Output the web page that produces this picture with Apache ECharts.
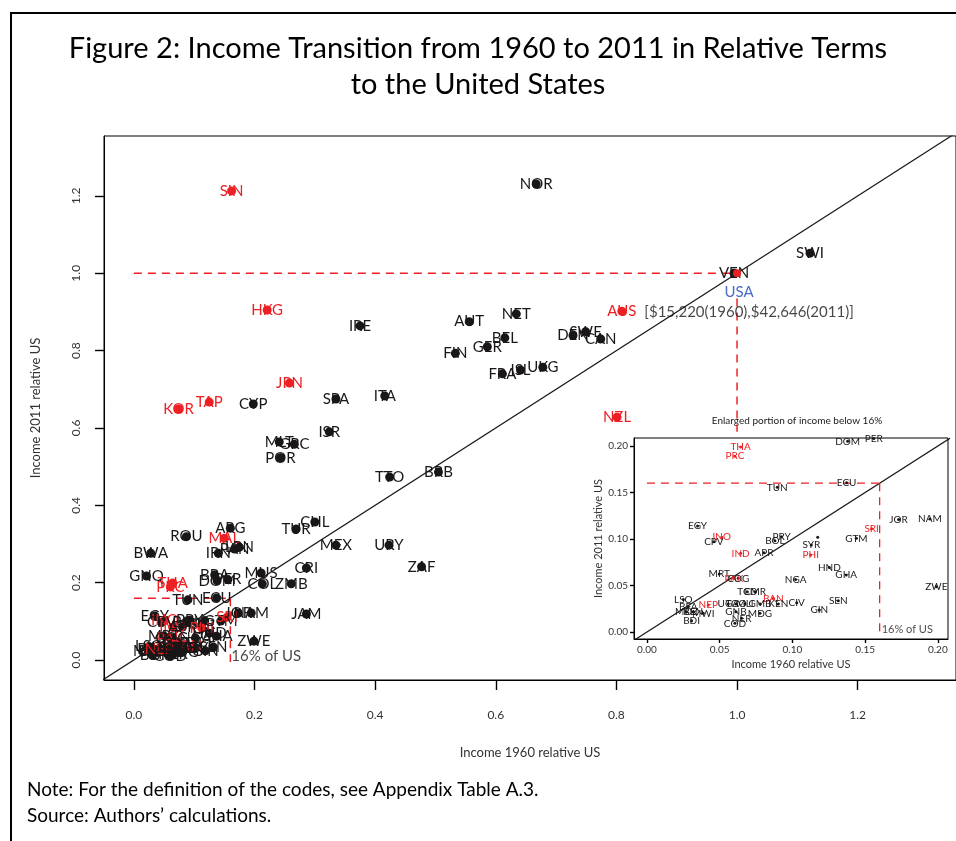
<!DOCTYPE html>
<html>
<head>
<meta charset="utf-8">
<script src="https://cdn.jsdelivr.net/npm/echarts@6/dist/echarts.min.js"></script>
<style>
  html, body { margin: 0; padding: 0; background: #fff; }
  #chart { width: 956px; height: 841px; }
</style>
</head>
<body>
<div id="chart"></div>
<script>
// countries above the 16% band (main panel only)
const mainCodes = ['SIN','HKG','IRE','JPN','TAP','KOR','CYP','SPA','ITA','ISR',
  'NOR','SWI','VEN','AUS','NET','AUT','BEL','GER','FIN','SWE','DEN','CAN','ISL','UKG','FRA','NZL',
  'MLT','GRC','POR','ARG','ROU','MAL','BWA','IRN','PAN','LBN','TTO','BRB','CHL','TUR','MEX','URY',
  'ZAF','CRI','MUS','COL','ZMB','JAM','GNQ','BRA'];
const main1960 = [0.162,0.221,0.375,0.258,0.125,0.074,0.198,0.335,0.416,0.324,
  0.667,1.121,0.995,0.809,0.634,0.556,0.615,0.586,0.533,0.749,0.728,0.774,0.641,0.678,0.611,0.801,
  0.241,0.266,0.243,0.160,0.087,0.150,0.028,0.140,0.167,0.175,0.424,0.505,0.300,0.269,0.335,0.423,
  0.477,0.286,0.211,0.213,0.261,0.286,0.021,0.134];
const main2011 = [1.213,0.905,0.864,0.716,0.667,0.649,0.662,0.675,0.683,0.590,
  1.231,1.052,1.000,0.902,0.895,0.875,0.833,0.810,0.793,0.849,0.839,0.830,0.750,0.757,0.740,0.628,
  0.564,0.558,0.523,0.341,0.319,0.315,0.276,0.276,0.287,0.292,0.473,0.486,0.357,0.339,0.297,0.297,
  0.241,0.238,0.225,0.197,0.197,0.119,0.217,0.220];

// countries in the enlarged portion (shown in both panels)
const lowCodes = ['THA','PRC','DOM','PER','TUN','ECU','EGY','INO','CPV','IND','PRY','BOL','APR','SYR','',
  'PHI','GTM','SRI','JOR','NAM','ZWE','HND','GHA','NGA','MRT','PAK','COG','TCD','CMR','BAN','GMB','KEN',
  'CIV','SEN','GIN','MDG','NER','COD','LSO','BFA','MOZ','BEN','MWI','BDI','NEP','UGA','TGO','GNB','MLI'];
const low1960 = [0.0644,0.0605,0.138,0.156,0.0896,0.1373,0.0348,0.0514,0.046,0.0644,0.0926,0.088,0.0805,0.113,0.1174,
  0.1126,0.144,0.1545,0.173,0.1946,0.199,0.1254,0.137,0.1022,0.0497,0.0598,0.0628,0.069,0.0743,0.0869,0.0777,0.0903,
  0.103,0.1316,0.1185,0.0777,0.0651,0.0605,0.025,0.0284,0.0273,0.0318,0.0387,0.0307,0.0422,0.0559,0.0612,0.0612,0.0674];
const low2011 = [0.199,0.189,0.205,0.208,0.1556,0.1606,0.114,0.102,0.097,0.0846,0.1025,0.098,0.0853,0.0935,0.102,
  0.0828,0.1007,0.111,0.121,0.1215,0.0487,0.0695,0.0613,0.0566,0.0624,0.0577,0.0577,0.0434,0.0434,0.0362,0.0301,0.0301,
  0.0315,0.0337,0.0237,0.0201,0.0147,0.0093,0.035,0.0272,0.0218,0.0218,0.0201,0.0122,0.029,0.0301,0.0301,0.0219,0.0301];

// economies highlighted in red
const redCodes = ['SIN','HKG','JPN','TAP','KOR','AUS','NZL','MAL','THA','PRC','INO','IND','PHI','SRI','PAK','BAN','NEP'];

const xTicks = [0, 0.2, 0.4, 0.6, 0.8, 1.0, 1.2];
const yTicks = [0, 0.2, 0.4, 0.6, 0.8, 1.0, 1.2];
const insetTicks = [0, 0.05, 0.1, 0.15, 0.2];

const usaPoint = [1.0, 1.0];
const usaNote = ['USA', '[$15,220(1960),$42,646(2011)]'];
const usaDrop = [0.935, 0.59];
const cutoff = 0.16;
const cutoffLabel = '16% of US';

// axis extents (R style 4% padding)
const mainX = [-0.0495, 1.363], mainY = [-0.0517, 1.355];
const insetX = [-0.0089, 0.207], insetY = [-0.0075, 0.2086];

const BLACK = '#1a1718', RED = '#ed2024', BLUE = '#4a6cc6';
const FONT = 'Lato';

function points(codes, xs, ys, fontSize) {
  return codes.map((c, i) => {
    const col = redCodes.includes(c) ? RED : BLACK;
    return {
      name: c,
      value: [xs[i], ys[i]],
      itemStyle: { color: col, opacity: 1 },
      label: { color: col, fontSize: fontSize }
    };
  });
}

function dashed(gi, pts, width) {
  return {
    type: 'line', xAxisIndex: gi, yAxisIndex: gi, data: pts, symbol: 'none',
    silent: true, clip: true, z: 1,
    lineStyle: { color: RED, width: width, type: [8, 6] }
  };
}

function diagonal(gi) {
  return {
    type: 'line', xAxisIndex: gi, yAxisIndex: gi, data: [[-0.1, -0.1], [1.5, 1.5]],
    symbol: 'none', silent: true, clip: true, z: 1,
    lineStyle: { color: BLACK, width: 1.2 }
  };
}

function axis(gi, range, tickVals, digits, opts) {
  return Object.assign({
    type: 'value', gridIndex: gi, min: range[0], max: range[1],
    axisLine: { show: true, onZero: false, lineStyle: { color: '#000', width: 1 } },
    splitLine: { show: false },
    axisTick: { show: true, customValues: tickVals, length: opts.tick, lineStyle: { color: '#000', width: 1.4 } },
    axisLabel: { customValues: tickVals, formatter: v => v.toFixed(digits), margin: opts.margin,
      fontSize: opts.fs, color: '#333', rotate: opts.rotate || 0 },
    nameLocation: 'middle', nameTextStyle: { fontSize: opts.nfs, color: '#333' }
  }, opts.extra);
}

const chart = echarts.init(document.getElementById('chart'));

chart.setOption({
  backgroundColor: '#fff',
  animation: false,
  textStyle: { fontFamily: FONT },
  title: {
    text: 'Figure 2: Income Transition from 1960 to 2011 in Relative Terms\nto the United States',
    left: 'center', top: 26,
    textStyle: { fontSize: 29, fontWeight: 'normal', lineHeight: 36, color: '#000', fontFamily: FONT }
  },
  graphic: [
    { id: 'frameL', type: 'line', shape: { x1: 11, y1: 12, x2: 11, y2: 841 }, style: { stroke: '#000', lineWidth: 2 } },
    { id: 'frameT', type: 'line', shape: { x1: 10, y1: 13, x2: 956, y2: 13 }, style: { stroke: '#000', lineWidth: 2 } },
    { id: 'insetTitle', type: 'text', x: 797, y: 416, style: { text: 'Enlarged portion of income below 16%', fontSize: 10, fill: BLACK, fontFamily: FONT, align: 'center', textAlign: 'center' } },
    { id: 'note', type: 'text', left: 27, top: 780, style: { text: 'Note: For the definition of the codes, see Appendix Table A.3.', fontSize: 19, fill: '#000', fontFamily: FONT } },
    { id: 'source', type: 'text', left: 27, top: 806, style: { text: 'Source: Authors\u2019 calculations.', fontSize: 19, fill: '#000', fontFamily: FONT } }
  ],
  grid: [
    { left: 104, top: 136, width: 856, height: 544, show: true, borderColor: '#000', borderWidth: 1 },
    { left: 634, top: 438, width: 314, height: 201, show: true, borderColor: '#000', borderWidth: 1, backgroundColor: '#fff' }
  ],
  xAxis: [
    axis(0, mainX, xTicks, 1, { tick: 10, margin: 29, fs: 12, nfs: 13,
      extra: { name: 'Income 1960 relative US', nameGap: 66 } }),
    axis(1, insetX, insetTicks, 2, { tick: 4, margin: 6, fs: 10, nfs: 11,
      extra: { name: 'Income 1960 relative US', nameGap: 20 } })
  ],
  yAxis: [
    axis(0, mainY, yTicks, 1, { tick: 9, margin: 22, fs: 12, nfs: 13, rotate: 90,
      extra: { name: 'Income 2011 relative US', nameGap: 62 } }),
    axis(1, insetY, insetTicks, 2, { tick: 4, margin: 6, fs: 10, nfs: 11,
      extra: { name: 'Income 2011 relative US', nameGap: 30 } })
  ],
  series: [
    diagonal(0),
    dashed(0, [[0, usaPoint[1]], usaPoint], 1.5),
    dashed(0, [[usaPoint[0], usaDrop[0]], [usaPoint[0], usaDrop[1]]], 1.5),
    dashed(0, [[0, cutoff], [cutoff, cutoff]], 1.5),
    dashed(0, [[cutoff, cutoff], [cutoff, -0.005]], 1.5),
    {
      type: 'scatter', xAxisIndex: 0, yAxisIndex: 0, symbolSize: 9, z: 3,
      data: points(mainCodes, main1960, main2011, 15).concat(points(lowCodes, low1960, low2011, 15)),
      label: { show: true, position: 'inside', formatter: '{b}', fontFamily: FONT }
    },
    {
      type: 'scatter', xAxisIndex: 0, yAxisIndex: 0, symbolSize: 8, z: 4,
      data: [
        { name: usaNote[0], value: usaPoint, itemStyle: { color: RED, opacity: 1 },
          label: { show: true, offset: [2, 19], color: BLUE, fontSize: 15 } },
        { name: usaNote[1], value: usaPoint, symbolSize: 0,
          label: { show: true, offset: [12, 39], color: BLACK, fontSize: 15 } },
        { name: cutoffLabel, value: [cutoff, 0.01], symbolSize: 0,
          label: { show: true, position: 'right', distance: 1, color: BLACK, fontSize: 15 } }
      ],
      label: { position: 'inside', formatter: '{b}', fontFamily: FONT }
    },
    diagonal(1),
    dashed(1, [[0, cutoff], [cutoff, cutoff]], 1.3),
    dashed(1, [[cutoff, cutoff], [cutoff, 0]], 1.3),
    {
      type: 'scatter', xAxisIndex: 1, yAxisIndex: 1, symbolSize: 3, z: 3, clip: true,
      data: points(lowCodes, low1960, low2011, 10),
      label: { show: true, position: 'inside', formatter: '{b}', fontFamily: FONT }
    },
    {
      type: 'scatter', xAxisIndex: 1, yAxisIndex: 1, symbolSize: 0, z: 3,
      data: [{ name: cutoffLabel, value: [cutoff, 0.003] }],
      label: { show: true, position: 'right', distance: 2, formatter: '{b}', color: BLACK, fontSize: 11, fontFamily: FONT }
    }
  ]
});
</script>
</body>
</html>
